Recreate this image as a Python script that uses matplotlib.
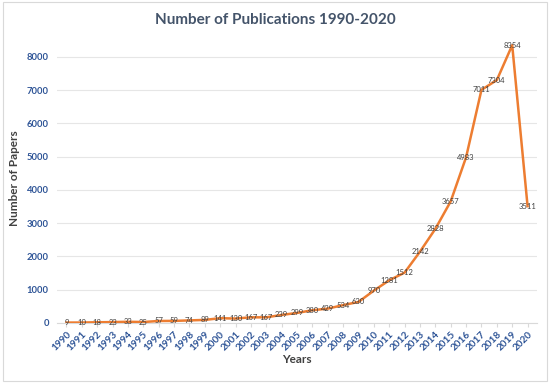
import matplotlib
matplotlib.use("Agg")
import matplotlib.pyplot as plt
from matplotlib.patches import Rectangle

plt.rcParams['font.family'] = ['Lato', 'DejaVu Sans']

years = [str(y) for y in range(1990, 2021)]
papers = [9, 10, 18, 23, 33, 25, 57, 59, 74, 89, 141, 130, 167, 167, 239, 299,
          380, 429, 534, 630, 970, 1281, 1512, 2142, 2828, 3657, 4983, 7011,
          7304, 8354, 3511]
yticks = [0, 1000, 2000, 3000, 4000, 5000, 6000, 7000, 8000]

fig = plt.figure(figsize=(5.5, 3.83), dpi=100)
fig.patches.append(Rectangle((0.005, 0.005), 0.99, 0.99, transform=fig.transFigure,
                             fill=False, edgecolor="#d9d9d9", linewidth=0.8))
ax = fig.add_axes([0.104, 0.157, 0.872, 0.755])

x = list(range(len(years)))
ax.plot(x, papers, color="#ED7D31", linewidth=1.8, zorder=3)
for xi, v in zip(x, papers):
    ax.text(xi, v, str(v), ha="center", va="center", fontsize=5.5,
            color="#404040", zorder=4)

ax.set_xlim(-0.6, len(years) - 0.4)
ax.set_ylim(0, 8700)
ax.set_yticks(yticks)
ax.set_yticklabels([str(t) for t in yticks], fontsize=6.8, color="#2F5597",
                   fontweight="bold")
ax.set_xticks(x)
ax.set_xticklabels(years, rotation=45, ha="right", rotation_mode="anchor",
                   fontsize=7.2, color="#2F5597", fontweight="bold")
ax.tick_params(axis="y", length=0, pad=6)
ax.tick_params(axis="x", length=3, color="#d9d9d9", pad=2)
ax.grid(axis="y", color="#e6e6e6", linewidth=0.8)
ax.set_axisbelow(True)
for s in ["top", "right", "left"]:
    ax.spines[s].set_visible(False)
ax.spines["bottom"].set_color("#d9d9d9")

ax.set_xlabel("Years", fontsize=8.5, color="#404040", fontweight="bold", labelpad=1)
ax.set_ylabel("Number of Papers", fontsize=8.5, color="#404040", fontweight="bold",
              labelpad=5)
fig.suptitle("Number of Publications 1990-2020", fontsize=11, fontweight="bold",
             color="#44546A", y=0.965)

fig.savefig("out.png", dpi=100)
